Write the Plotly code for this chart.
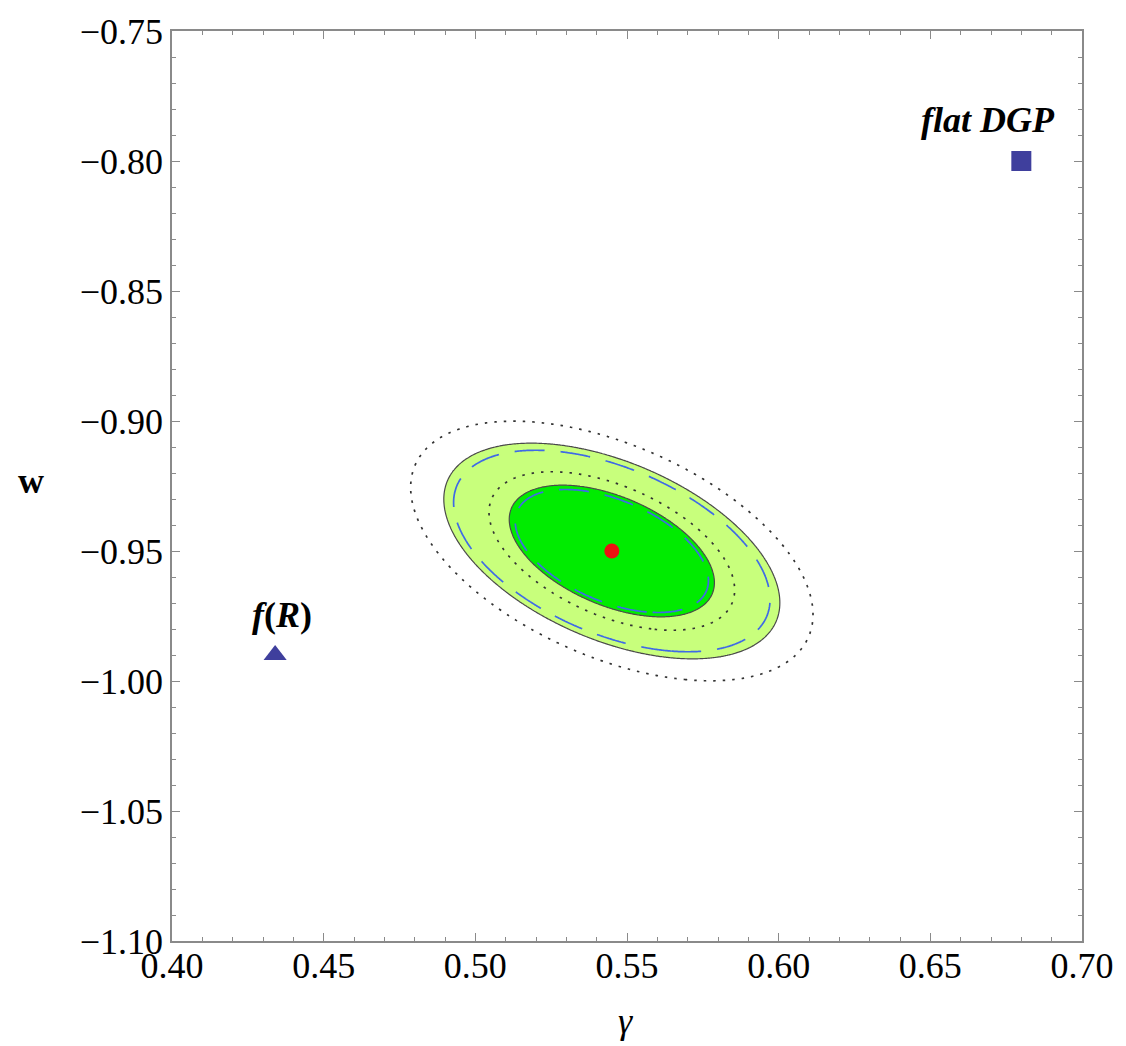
import numpy as np
import plotly.graph_objects as go

# Best-fit point in the (gamma, w) plane
best_gamma = 0.545
best_w = -0.95

# Gaussian approximations of the likelihoods: sigma_gamma, sigma_w, correlation
filled_sigma = [0.0223, 0.0167, -0.48]
dashed_sigma = [0.0210, 0.0156, -0.48]
dotted_sigma = [0.0267, 0.0201, -0.49]

# Delta chi^2 levels of the 68.3% and 95.4% regions (two parameters)
chi2_levels = [2.30, 6.17]

# Theoretical predictions
model_names = ["flat DGP", "f(R)"]
model_gamma = [0.68, 0.434]
model_w = [-0.80, -0.99]

# Axis ranges and ticks
x_range = [0.40, 0.70]
y_range = [-1.10, -0.75]
major_step = 0.05
minor_step = 0.01

# Evaluation grid for the chi^2 surfaces
gg = np.linspace(0.44, 0.66, 441)
ww = np.linspace(-1.03, -0.87, 321)
G, W = np.meshgrid(gg, ww)


def chi2(params):
    sx, sy, r = params
    dx = (G - best_gamma) / sx
    dy = (W - best_w) / sy
    return (dx * dx - 2 * r * dx * dy + dy * dy) / (1 - r * r)


z_filled = chi2(filled_sigma)
z_dashed = chi2(dashed_sigma)
z_dotted = chi2(dotted_sigma)

fig = go.Figure()

# Filled confidence regions: outer (light) then inner (bright green).
# A ">" constraint shades the region where chi^2 stays below the level.
fill_colors = ["#00ec00", "#c8ff7c"]
for level, color in sorted(zip(chi2_levels, fill_colors), key=lambda t: -t[0]):
    fig.add_trace(go.Contour(
        x=gg, y=ww, z=z_filled,
        contours=dict(type="constraint", operation=">", value=level),
        fillcolor=color,
        line=dict(color="#4a4a4a", width=1.2),
        showscale=False, hoverinfo="skip", showlegend=False,
    ))

# Dashed blue and dotted black contours of the other likelihoods
for level in chi2_levels:
    fig.add_trace(go.Contour(
        x=gg, y=ww, z=z_dashed,
        contours=dict(type="constraint", operation=">", value=level),
        fillcolor="rgba(0,0,0,0)",
        line=dict(color="#3f6ae6", width=1.7, dash="30px,16px"),
        showscale=False, hoverinfo="skip", showlegend=False,
    ))
    fig.add_trace(go.Contour(
        x=gg, y=ww, z=z_dotted,
        contours=dict(type="constraint", operation=">", value=level),
        fillcolor="rgba(0,0,0,0)",
        line=dict(color="#333333", width=1.7, dash="2.5px,7px"),
        showscale=False, hoverinfo="skip", showlegend=False,
    ))

# Best-fit point
fig.add_trace(go.Scatter(
    x=[best_gamma], y=[best_w], mode="markers",
    marker=dict(color="#ee1111", size=15, opacity=1, line=dict(width=0)),
    hoverinfo="skip", showlegend=False,
))

# Model predictions
fig.add_trace(go.Scatter(
    x=model_gamma, y=model_w, mode="markers",
    marker=dict(color="#3f3f9d", size=[20, 20], symbol=["square", "triangle-up"],
                opacity=1, line=dict(width=0)),
    hoverinfo="skip", showlegend=False,
))

serif = "Liberation Serif"
label_text = ["<b><i>flat DGP</i></b>", "<b><i>f</i>(<i>R</i>)</b>"]
label_shift = [(-33, 41), (7, 40)]
annotations = []
for gx, wy, txt, (dx, dy) in zip(model_gamma, model_w, label_text, label_shift):
    annotations.append(dict(
        x=gx, y=wy, xref="x", yref="y", text=txt, showarrow=False,
        xshift=dx, yshift=dy, xanchor="center", yanchor="middle",
        font=dict(family=serif, size=36, color="black"),
    ))

# Axis titles
annotations.append(dict(
    x=-0.155, y=0.505, xref="paper", yref="paper", text="<b>w</b>",
    showarrow=False, xanchor="center", yanchor="middle",
    font=dict(family=serif, size=36, color="black"),
))
annotations.append(dict(
    x=0.498, y=-0.088, xref="paper", yref="paper", text="<i>γ</i>",
    showarrow=False, xanchor="center", yanchor="middle",
    font=dict(family=serif, size=36, color="black"),
))

axis_common = dict(
    showgrid=False, zeroline=False,
    showline=True, linecolor="#8a8a8a", linewidth=1.5, mirror="ticks",
    ticks="inside", ticklen=8, tickwidth=1.2, tickcolor="#8a8a8a",
    tickformat=".2f",
    tickfont=dict(family=serif, size=36, color="black"),
    minor=dict(ticks="inside", ticklen=4, tickwidth=1.2, tickcolor="#8a8a8a",
               dtick=minor_step),
)

fig.update_xaxes(range=x_range, tick0=x_range[0], dtick=major_step,
                 ticklabelstandoff=-8, **axis_common)
fig.update_yaxes(range=y_range, tick0=y_range[0], dtick=major_step, **axis_common)

fig.update_layout(
    width=1126, height=1046,
    margin=dict(l=172, r=38, t=25, b=105),
    paper_bgcolor="white", plot_bgcolor="white",
    font=dict(family=serif, color="black"),
    annotations=annotations,
    showlegend=False,
)

fig.write_html("out.html")
